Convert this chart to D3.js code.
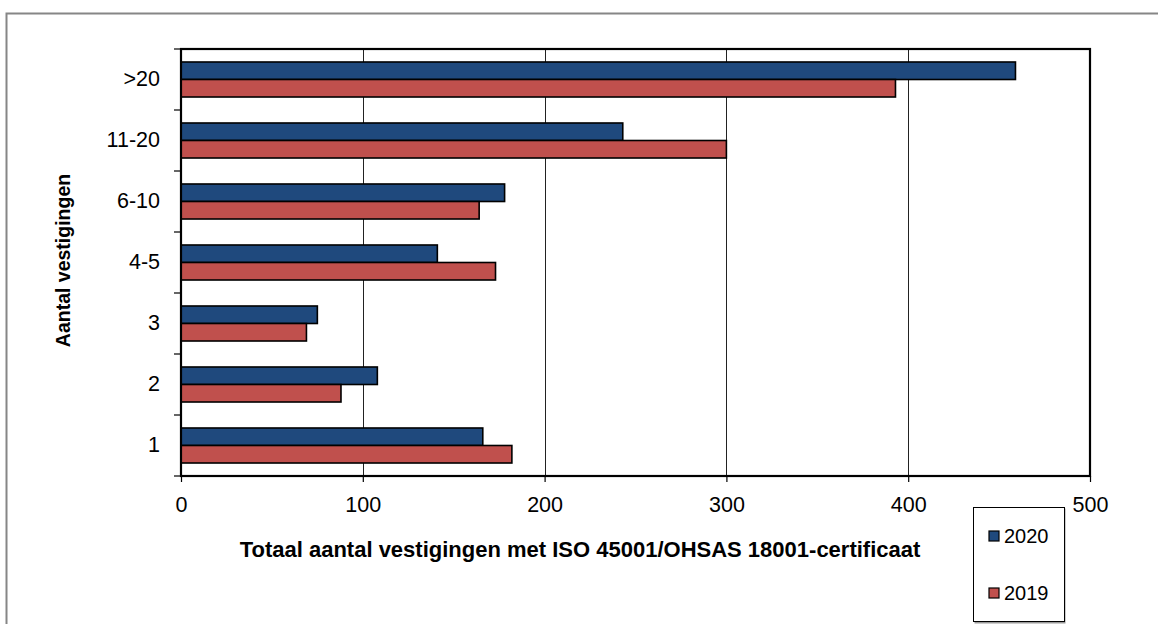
<!DOCTYPE html>
<html>
<head>
<meta charset="utf-8">
<script src="https://d3js.org/d3.v7.min.js"></script>
<style>
  html, body { margin: 0; padding: 0; background: #fff; }
  svg { display: block; font-family: "Liberation Sans", Arial, sans-serif; }
</style>
</head>
<body>
<svg id="chart" width="1158" height="624"></svg>
<script>
const categories = [">20", "11-20", "6-10", "4-5", "3", "2", "1"];
const seriesNames = ["2020", "2019"];
const values2020 = [459, 243, 178, 141, 75, 108, 166];
const values2019 = [393, 300, 164, 173, 69, 88, 182];
const xTicks = [0, 100, 200, 300, 400, 500];
const colors = { "2020": "#1f497d", "2019": "#c0504d" };
const xTitle = "Totaal aantal vestigingen met ISO 45001/OHSAS 18001-certificaat";
const yTitle = "Aantal vestigingen";

const svg = d3.select("#chart");
const W = 1158, H = 624;
const plot = { left: 181, right: 1090, top: 49, bottom: 476 };

// outer chart border
svg.append("rect")
  .attr("x", 6.5).attr("y", 13.5)
  .attr("width", W + 20).attr("height", H + 20)
  .attr("fill", "#fff").attr("stroke", "#868686").attr("stroke-width", 2);

const x = d3.scaleLinear().domain([0, 500]).range([plot.left, plot.right]);
const y0 = d3.scaleBand().domain(categories).range([plot.top, plot.bottom])
  .paddingInner(0.426).paddingOuter(0.213);
const y1 = d3.scaleBand().domain(seriesNames).range([0, y0.bandwidth()]);

const rows = categories.map((c, i) => ({ cat: c, "2020": values2020[i], "2019": values2019[i] }));

// gridlines
svg.append("g").selectAll("line")
  .data(xTicks.filter(t => t > 0 && t < 500))
  .join("line")
  .attr("x1", d => Math.round(x(d)) + 0.5).attr("x2", d => Math.round(x(d)) + 0.5)
  .attr("y1", plot.top).attr("y2", plot.bottom)
  .attr("stroke", "#222").attr("stroke-width", 1);

// bars
const groups = svg.append("g").selectAll("g")
  .data(rows).join("g")
  .attr("transform", d => `translate(0,${y0(d.cat)})`);
groups.selectAll("rect")
  .data(d => seriesNames.map(s => ({ s, v: d[s] })))
  .join("rect")
  .attr("x", x(0))
  .attr("y", d => y1(d.s))
  .attr("width", d => x(d.v) - x(0))
  .attr("height", y1.bandwidth())
  .attr("fill", d => colors[d.s])
  .attr("stroke", "#000").attr("stroke-width", 1.6);

// plot frame
svg.append("rect")
  .attr("x", plot.left).attr("y", plot.top)
  .attr("width", plot.right - plot.left).attr("height", plot.bottom - plot.top)
  .attr("fill", "none").attr("stroke", "#000").attr("stroke-width", 2.2);

// x axis
const xAxis = svg.append("g")
  .attr("transform", `translate(0,${plot.bottom})`)
  .call(d3.axisBottom(x).tickValues(xTicks).tickSize(6).tickPadding(15).tickFormat(d3.format("d")));
xAxis.select(".domain").remove();
xAxis.selectAll(".tick line").attr("stroke", "#000").attr("stroke-width", 1.2);
xAxis.selectAll(".tick text").attr("font-size", "21.5px").attr("fill", "#000")
  .attr("font-family", "Liberation Sans, Arial, sans-serif");

// y axis labels
const yAxis = svg.append("g")
  .attr("transform", `translate(${plot.left},0)`)
  .call(d3.axisLeft(y0).tickSize(0).tickPadding(21));
yAxis.select(".domain").remove();
yAxis.selectAll(".tick text").attr("font-size", "21.5px").attr("fill", "#000")
  .attr("font-family", "Liberation Sans, Arial, sans-serif");

// y category boundary ticks
const step = y0.step();
const boundaries = d3.range(categories.length + 1).map(i => plot.top + i * step);
svg.append("g").selectAll("line")
  .data(boundaries).join("line")
  .attr("x1", plot.left - 7).attr("x2", plot.left)
  .attr("y1", d => d).attr("y2", d => d)
  .attr("stroke", "#000").attr("stroke-width", 1.2);

// axis titles
svg.append("text")
  .attr("x", 580).attr("y", 557)
  .attr("text-anchor", "middle")
  .attr("font-size", "22px").attr("font-weight", "bold")
  .text(xTitle);

svg.append("text")
  .attr("transform", `translate(70,${(plot.top + plot.bottom) / 2 - 2}) rotate(-90)`)
  .attr("text-anchor", "middle")
  .attr("font-size", "19.5px").attr("font-weight", "bold")
  .text(yTitle);

// legend
const lg = svg.append("g").attr("transform", "translate(973,507)");
lg.append("rect").attr("x", 1.5).attr("y", 1.5).attr("width", 91).attr("height", 115)
  .attr("fill", "#9a9a9a");
lg.append("rect").attr("x", 0.5).attr("y", 0.5).attr("width", 91).attr("height", 114)
  .attr("fill", "#fff").attr("stroke", "#000").attr("stroke-width", 1);
const items = lg.selectAll("g.item").data(seriesNames).join("g")
  .attr("class", "item")
  .attr("transform", (d, i) => `translate(16,${24 + i * 57})`);
items.append("rect").attr("width", 10).attr("height", 10)
  .attr("fill", d => colors[d]).attr("stroke", "#000").attr("stroke-width", 1.2);
items.append("text").attr("x", 15).attr("y", 12)
  .attr("font-size", "20px").attr("fill", "#000")
  .text(d => d);
</script>
</body>
</html>
